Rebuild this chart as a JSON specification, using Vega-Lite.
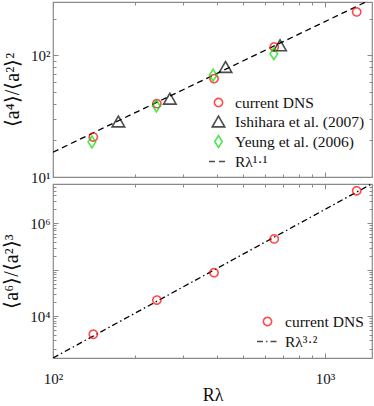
{
  "$schema": "https://vega.github.io/schema/vega-lite/v6.json",
  "padding": {"left": 1, "top": 0, "right": 2, "bottom": 0},
  "config": {
    "font": "Liberation Serif",
    "view": {"stroke": "#8a8a8a", "strokeWidth": 1.2},
    "axis": {"domain": false, "grid": false, "minExtent": 0, "labelFlush": false, "tickColor": "#8a8a8a", "tickWidth": 1, "labelFont": "Liberation Serif", "labelFontSize": 15, "labelColor": "#111", "titleFont": "Liberation Serif", "titleFontSize": 20, "titleFontWeight": "normal", "titleColor": "#111"},
    "legend": {"labelFont": "Liberation Serif", "labelFontSize": 15.5, "labelColor": "#111", "symbolStrokeWidth": 1.6, "labelOffset": 6, "rowPadding": -2, "padding": 0}
  },
  "datasets": {
    "top_dns": [
      {"R": 140.7, "v": 21.3, "series": "current DNS"},
      {"R": 241, "v": 40.0, "series": "current DNS"},
      {"R": 391, "v": 64.3, "series": "current DNS"},
      {"R": 651, "v": 117, "series": "current DNS"},
      {"R": 1309, "v": 227, "series": "current DNS"}
    ],
    "top_ish": [
      {"R": 174, "v": 28.6, "series": "Ishihara et al. (2007)"},
      {"R": 269, "v": 44.0, "series": "Ishihara et al. (2007)"},
      {"R": 431, "v": 80.2, "series": "Ishihara et al. (2007)"},
      {"R": 684, "v": 120.8, "series": "Ishihara et al. (2007)"}
    ],
    "top_yeung": [
      {"R": 139, "v": 19.4, "series": "Yeung et al. (2006)"},
      {"R": 240, "v": 38.3, "series": "Yeung et al. (2006)"},
      {"R": 388, "v": 68.6, "series": "Yeung et al. (2006)"},
      {"R": 649, "v": 103, "series": "Yeung et al. (2006)"}
    ],
    "top_fit": [
      {"R": 100, "v": 16.0, "series": "Rλ¹·¹"},
      {"R": 1490, "v": 290, "series": "Rλ¹·¹"}
    ],
    "bot_dns": [
      {"R": 140.7, "v": 4080, "series": "current DNS"},
      {"R": 241, "v": 22200, "series": "current DNS"},
      {"R": 391, "v": 86100, "series": "current DNS"},
      {"R": 651, "v": 460000, "series": "current DNS"},
      {"R": 1309, "v": 5000000, "series": "current DNS"}
    ],
    "bot_fit": [
      {"R": 100, "v": 1257, "series": "Rλ³·²"},
      {"R": 1490, "v": 7100000, "series": "Rλ³·²"}
    ]
  },
  "spacing": 7,
  "bounds": "flush",
  "resolve": {
    "scale": {"x": "independent", "y": "independent", "color": "independent", "shape": "independent", "strokeDash": "independent"},
    "legend": {"color": "independent", "shape": "independent", "strokeDash": "independent"}
  },
  "vconcat": [
    {
      "width": 319,
      "height": 175,
      "resolve": {"axis": {"x": "independent", "y": "independent"}},
      "layer": [
        {
          "data": {"name": "top_fit"},
          "mark": {"type": "line", "clip": true, "strokeWidth": 1.3},
          "encoding": {
            "x": {"field": "R", "type": "quantitative", "scale": {"type": "log", "domain": [100, 1490], "nice": false}, "axis": {"orient": "bottom", "values": [100, 1000], "tickSize": -5, "labels": false, "title": null}},
            "y": {"field": "v", "type": "quantitative", "scale": {"type": "log", "domain": [10, 274], "nice": false}, "axis": {"orient": "left", "values": [10, 100], "tickSize": -5, "labelPadding": 8, "labelExpr": "datum.value == 10 ? '10¹' : '10²'", "title": "⟨a⁴⟩/⟨a²⟩²", "titlePadding": 8}},
            "color": {"field": "series", "type": "nominal", "scale": {"domain": ["current DNS", "Ishihara et al. (2007)", "Yeung et al. (2006)", "Rλ¹·¹"], "range": ["#ff0000", "#000000", "#00dd00", "#000000"]}, "legend": {"orient": "bottom-right", "offset": 7, "title": null, "symbolSize": 361, "labelFont": "Liberation Serif", "labelFontSize": 15.5}},
            "strokeDash": {"field": "series", "type": "nominal", "scale": {"domain": ["current DNS", "Ishihara et al. (2007)", "Yeung et al. (2006)", "Rλ¹·¹"], "range": [[1, 0], [1, 0], [1, 0], [6, 4]]}, "legend": {"orient": "bottom-right", "offset": 7, "title": null, "symbolSize": 361, "labelFont": "Liberation Serif", "labelFontSize": 15.5}}
          }
        },
        {
          "data": {"name": "top_dns"},
          "mark": {"type": "point", "filled": false, "strokeWidth": 1.6, "size": 361},
          "encoding": {
            "x": {"field": "R", "type": "quantitative", "axis": {"orient": "bottom", "values": [200, 300, 400, 500, 600, 700, 800, 900], "tickSize": -3, "labels": false, "title": null}},
            "y": {"field": "v", "type": "quantitative", "axis": {"orient": "left", "values": [20, 30, 40, 50, 60, 70, 80, 90, 200], "tickSize": -3, "labels": false, "title": null}},
            "color": {"field": "series", "type": "nominal"},
            "shape": {"field": "series", "type": "nominal", "scale": {"domain": ["current DNS", "Ishihara et al. (2007)", "Yeung et al. (2006)", "Rλ¹·¹"], "range": ["M-0.43,0A0.43,0.43 0 1,0 0.43,0A0.43,0.43 0 1,0 -0.43,0Z", "M0,-0.57L-0.66,0.57L0.66,0.57Z", "M-0.4,0L0,-0.62L0.4,0L0,0.62Z", "M-1,0L1,0"]}, "legend": {"orient": "bottom-right", "offset": 7, "title": null, "symbolSize": 361, "labelFont": "Liberation Serif", "labelFontSize": 15.5}},
            "strokeDash": {"field": "series", "type": "nominal"}
          }
        },
        {
          "data": {"name": "top_ish"},
          "mark": {"type": "point", "filled": false, "strokeWidth": 1.6, "size": 361},
          "encoding": {
            "x": {"field": "R", "type": "quantitative", "axis": {"orient": "top", "values": [100, 1000], "tickSize": -5, "labels": false, "title": null}},
            "y": {"field": "v", "type": "quantitative", "axis": {"orient": "right", "values": [10, 100], "tickSize": -5, "labels": false, "title": null}},
            "color": {"field": "series", "type": "nominal"},
            "shape": {"field": "series", "type": "nominal"},
            "strokeDash": {"field": "series", "type": "nominal"}
          }
        },
        {
          "data": {"name": "top_yeung"},
          "mark": {"type": "point", "filled": false, "strokeWidth": 1.6, "size": 361},
          "encoding": {
            "x": {"field": "R", "type": "quantitative", "axis": {"orient": "top", "values": [200, 300, 400, 500, 600, 700, 800, 900], "tickSize": -3, "labels": false, "title": null}},
            "y": {"field": "v", "type": "quantitative", "axis": {"orient": "right", "values": [20, 30, 40, 50, 60, 70, 80, 90, 200], "tickSize": -3, "labels": false, "title": null}},
            "color": {"field": "series", "type": "nominal"},
            "shape": {"field": "series", "type": "nominal"},
            "strokeDash": {"field": "series", "type": "nominal"}
          }
        }
      ]
    },
    {
      "width": 319,
      "height": 174,
      "resolve": {"axis": {"x": "independent", "y": "independent"}},
      "layer": [
        {
          "data": {"name": "bot_fit"},
          "mark": {"type": "line", "clip": true, "strokeWidth": 1.3},
          "encoding": {
            "x": {"field": "R", "type": "quantitative", "scale": {"type": "log", "domain": [100, 1490], "nice": false}, "axis": {"orient": "bottom", "values": [100, 1000], "tickSize": -5, "labelPadding": 18, "labelExpr": "datum.value == 100 ? '10²' : '10³'", "title": "Rλ", "titlePadding": 0, "titleFontSize": 18}},
            "y": {"field": "v", "type": "quantitative", "scale": {"type": "log", "domain": [1257, 7000000], "nice": false}, "axis": {"orient": "left", "values": [10000, 100000, 1000000], "tickSize": -5, "labelPadding": 8, "labelExpr": "datum.value == 10000 ? '10⁴' : (datum.value == 1000000 ? '10⁶' : '')", "title": "⟨a⁶⟩/⟨a²⟩³", "titlePadding": 8}},
            "color": {"field": "series", "type": "nominal", "scale": {"domain": ["current DNS", "Rλ³·²"], "range": ["#ff0000", "#000000"]}, "legend": {"orient": "bottom-right", "offset": 8, "title": null, "symbolSize": 441, "labelFont": "Liberation Serif", "labelFontSize": 15.5}},
            "strokeDash": {"field": "series", "type": "nominal", "scale": {"domain": ["current DNS", "Rλ³·²"], "range": [[1, 0], [6, 3, 1.5, 3]]}, "legend": {"orient": "bottom-right", "offset": 8, "title": null, "symbolSize": 441, "labelFont": "Liberation Serif", "labelFontSize": 15.5}}
          }
        },
        {
          "data": {"name": "bot_dns"},
          "mark": {"type": "point", "filled": false, "strokeWidth": 1.6, "size": 441},
          "encoding": {
            "x": {"field": "R", "type": "quantitative", "axis": {"orient": "bottom", "values": [200, 300, 400, 500, 600, 700, 800, 900], "tickSize": -3, "labels": false, "title": null}},
            "y": {"field": "v", "type": "quantitative", "axis": {"orient": "left", "values": [2000, 3000, 4000, 5000, 6000, 7000, 8000, 9000, 20000, 30000, 40000, 50000, 60000, 70000, 80000, 90000, 200000, 300000, 400000, 500000, 600000, 700000, 800000, 900000, 2000000, 3000000, 4000000, 5000000, 6000000], "tickSize": -3, "labels": false, "title": null}},
            "color": {"field": "series", "type": "nominal"},
            "shape": {"field": "series", "type": "nominal", "scale": {"domain": ["current DNS", "Rλ³·²"], "range": ["M-0.39,0A0.39,0.39 0 1,0 0.39,0A0.39,0.39 0 1,0 -0.39,0Z", "M-1,0L1,0"]}, "legend": {"orient": "bottom-right", "offset": 8, "title": null, "symbolSize": 441, "labelFont": "Liberation Serif", "labelFontSize": 15.5}},
            "strokeDash": {"field": "series", "type": "nominal"}
          }
        },
        {
          "data": {"name": "bot_dns"},
          "mark": {"type": "point", "opacity": 0},
          "encoding": {
            "x": {"field": "R", "type": "quantitative", "axis": {"orient": "top", "values": [100, 1000], "tickSize": -5, "labels": false, "title": null}},
            "y": {"field": "v", "type": "quantitative", "axis": {"orient": "right", "values": [10000, 100000, 1000000], "tickSize": -5, "labels": false, "title": null}}
          }
        },
        {
          "data": {"name": "bot_dns"},
          "mark": {"type": "point", "opacity": 0},
          "encoding": {
            "x": {"field": "R", "type": "quantitative", "axis": {"orient": "top", "values": [200, 300, 400, 500, 600, 700, 800, 900], "tickSize": -3, "labels": false, "title": null}},
            "y": {"field": "v", "type": "quantitative", "axis": {"orient": "right", "values": [2000, 3000, 4000, 5000, 6000, 7000, 8000, 9000, 20000, 30000, 40000, 50000, 60000, 70000, 80000, 90000, 200000, 300000, 400000, 500000, 600000, 700000, 800000, 900000, 2000000, 3000000, 4000000, 5000000, 6000000], "tickSize": -3, "labels": false, "title": null}}
          }
        }
      ]
    }
  ]
}
